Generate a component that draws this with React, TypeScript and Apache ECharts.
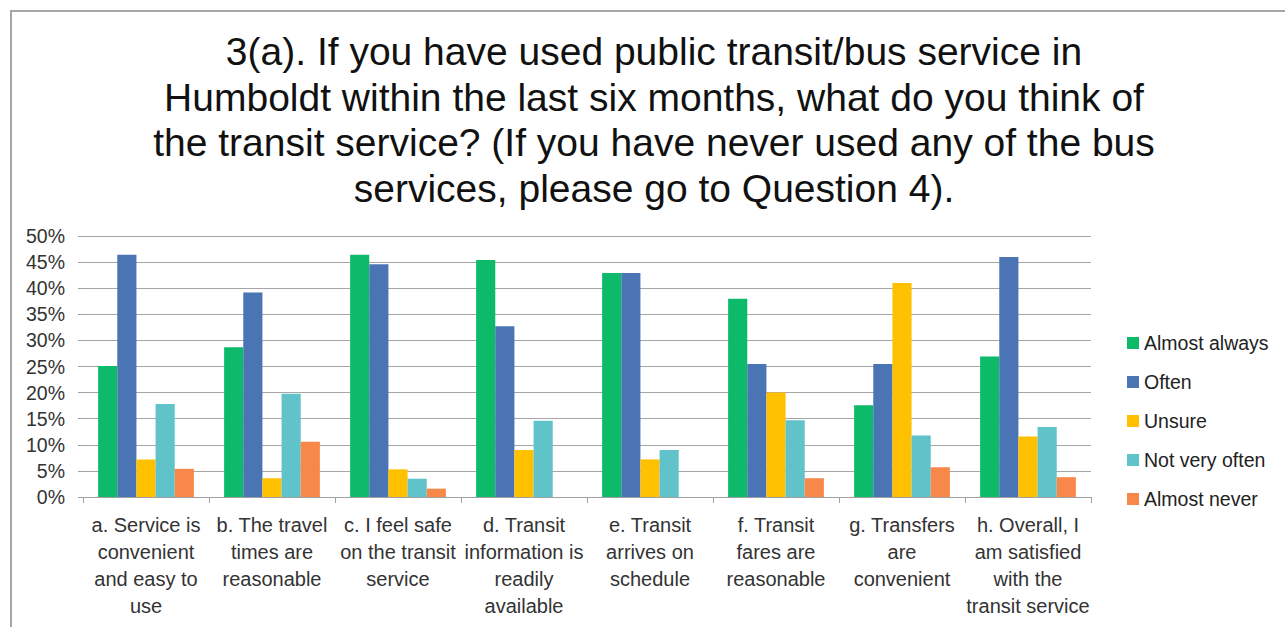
import React, { useEffect, useRef } from "react";
import * as echarts from "echarts";

const titleLines = [
  "3(a). If you have used public transit/bus service in",
  "Humboldt within the last six months, what do you think of",
  "the transit service? (If you have never used any of the bus",
  "services, please go to Question 4).",
];

const categories = [
  "a. Service is\nconvenient\nand easy to\nuse",
  "b. The travel\ntimes are\nreasonable",
  "c. I feel safe\non the transit\nservice",
  "d. Transit\ninformation is\nreadily\navailable",
  "e. Transit\narrives on\nschedule",
  "f. Transit\nfares are\nreasonable",
  "g. Transfers\nare\nconvenient",
  "h. Overall, I\nam satisfied\nwith the\ntransit service",
];

const seriesNames = ["Almost always", "Often", "Unsure", "Not very often", "Almost never"];
const seriesColors = ["#0DBA6A", "#4A74B4", "#FFC000", "#61C3CA", "#F8874A"];

const almostAlways = [25.1, 28.7, 46.4, 45.4, 42.9, 38.0, 17.6, 26.9];
const often = [46.4, 39.2, 44.6, 32.7, 42.9, 25.5, 25.5, 46.0];
const unsure = [7.2, 3.6, 5.3, 9.0, 7.2, 20.0, 41.0, 11.6];
const notVeryOften = [17.8, 19.8, 3.5, 14.6, 9.0, 14.7, 11.8, 13.4];
const almostNever = [5.4, 10.6, 1.6, 0, 0, 3.6, 5.7, 3.8];

const seriesData = [almostAlways, often, unsure, notVeryOften, almostNever];

const yTicks = { min: 0, max: 50, interval: 5 };

export default function App() {
  const ref = useRef<HTMLDivElement>(null);
  useEffect(() => {
    document.body.style.margin = "0";
    const chart = echarts.init(ref.current!, undefined, { renderer: "svg" });
    const font = "'Liberation Sans', Arial, sans-serif";
    chart.setOption({
      animation: false,
      backgroundColor: "#ffffff",
      textStyle: { fontFamily: font },
      graphic: [
        {
          type: "rect",
          shape: { x: 11, y: 11, width: 1400, height: 800 },
          style: { fill: "none", stroke: "#A6A6A6", lineWidth: 2 },
          silent: true,
        },
        {
          type: "text",
          x: 654,
          y: 29,
          style: {
            text: titleLines.join("\n"),
            fontSize: 39,
            lineHeight: 45.5,
            fontFamily: font,
            fill: "#111111",
            align: "center",
            verticalAlign: "top",
          },
        },
      ],
      legend: {
        orient: "vertical",
        left: 1127,
        top: 333,
        padding: 0,
        itemGap: 19,
        itemWidth: 12,
        itemHeight: 12,
        icon: "rect",
        data: seriesNames,
        textStyle: { fontSize: 19.5, color: "#222222", fontFamily: font },
      },
      grid: { left: 83, right: 194, top: 236, bottom: 130, containLabel: false },
      xAxis: {
        type: "category",
        data: categories,
        axisLine: { show: true, lineStyle: { color: "#A0A0A0", width: 1 } },
        axisTick: { show: true, length: 6, lineStyle: { color: "#A0A0A0" } },
        axisLabel: {
          interval: 0,
          fontSize: 20,
          lineHeight: 27,
          color: "#333333",
          margin: 14,
          fontFamily: font,
        },
        splitLine: { show: false },
      },
      yAxis: {
        type: "value",
        min: yTicks.min,
        max: yTicks.max,
        interval: yTicks.interval,
        axisLine: { show: false },
        axisTick: { show: true, length: 5, lineStyle: { color: "#A0A0A0" } },
        axisLabel: {
          formatter: "{value}%",
          fontSize: 19.5,
          color: "#333333",
          margin: 18,
          fontFamily: font,
        },
        splitLine: { show: true, lineStyle: { color: "#A6A6A6", width: 1 } },
      },
      series: seriesNames.map((name, i) => ({
        name,
        type: "bar",
        data: seriesData[i],
        barGap: "0%",
        barCategoryGap: "24%",
        itemStyle: { color: seriesColors[i] },
      })),
    });
    return () => chart.dispose();
  }, []);
  return <div ref={ref} style={{ width: 1285, height: 627 }} />;
}
